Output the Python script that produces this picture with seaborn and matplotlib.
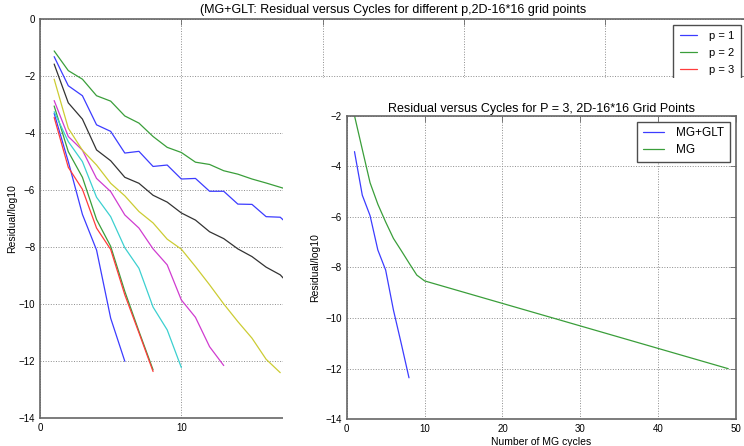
import numpy as np
import pandas as pd
import seaborn as sns
import matplotlib
matplotlib.use("Agg")
import matplotlib.pyplot as plt
from matplotlib.patches import Rectangle

# --- data ---
# left panel: log10 residual per MG+GLT cycle for p = 1..9
p_values = [1, 2, 3, 4, 5, 6, 7, 8, 9]
res_p1 = [-3.31, -5.0, -6.85, -8.1, -10.49, -12.0]
res_p2 = [-3.05, -4.65, -5.55, -7.03, -7.97, -9.55, -10.95, -12.3]
res_p3 = [-3.45, -5.2, -5.97, -7.33, -8.08, -9.67, -11.0, -12.36]
res_p4 = [-3.25, -4.3, -5.0, -6.25, -6.93, -8.02, -8.74, -10.1, -10.9, -12.22]
res_p5 = [-2.86, -4.12, -4.6, -5.59, -6.05, -6.87, -7.33, -8.06, -8.62,
          -9.85, -10.46, -11.49, -12.15]
res_p6 = [-2.11, -3.83, -4.6, -5.12, -5.76, -6.2, -6.75, -7.15, -7.72,
          -8.07, -8.68, -9.32, -9.99, -10.61, -11.19, -11.93, -12.4]
res_p7 = [-1.58, -2.94, -3.51, -4.59, -4.97, -5.55, -5.76, -6.18, -6.42,
          -6.8, -7.05, -7.46, -7.7, -8.06, -8.33, -8.7, -8.97, -9.5]
res_p8 = [-1.32, -2.34, -2.69, -3.71, -3.94, -4.7, -4.64, -5.17, -5.12,
          -5.61, -5.59, -6.04, -6.04, -6.49, -6.5, -6.93, -6.95, -7.4]
res_p9 = [-1.12, -1.81, -2.11, -2.69, -2.88, -3.4, -3.65, -4.12, -4.5,
          -4.68, -5.02, -5.1, -5.32, -5.44, -5.61, -5.75, -5.9, -6.05]
all_res = [res_p1, res_p2, res_p3, res_p4, res_p5, res_p6, res_p7, res_p8, res_p9]

# right panel: P = 3
glt_cycles = [1, 2, 3, 4, 5, 6, 7, 8]
glt_res = [-3.42, -5.14, -5.95, -7.31, -8.1, -9.68, -11.0, -12.36]
mg_cycles = [1, 2, 3, 4, 5, 6, 7, 8, 9, 10, 49]
mg_res = [-2.0, -3.33, -4.65, -5.5, -6.2, -6.85, -7.33, -7.82, -8.3, -8.53, -12.0]

# matlab-ish colour cycle, a bit washed out like the thin lines in the original
cycle_colors = ['#3c3cff', '#3a9e3a', '#ff3c3c', '#3cd0d0', '#d03cd0',
                '#cccc33', '#333333']

rows = []
for p, res in zip(p_values, all_res):
    for i, r in enumerate(res):
        rows.append({'cycle': i + 1, 'residual': r, 'p': f'p = {p}'})
df_left = pd.DataFrame(rows)

df_right = pd.concat([
    pd.DataFrame({'cycle': glt_cycles, 'residual': glt_res, 'method': 'MG+GLT'}),
    pd.DataFrame({'cycle': mg_cycles, 'residual': mg_res, 'method': 'MG'}),
])

sns.set_theme(style="white")
plt.rcParams['font.family'] = ['Liberation Sans', 'DejaVu Sans']
plt.rcParams.update({
    'xtick.direction': 'in', 'ytick.direction': 'in',
    'xtick.top': True, 'ytick.right': True,
    'xtick.major.size': 4, 'ytick.major.size': 4,
    'xtick.major.width': 0.6, 'ytick.major.width': 0.6,
    'xtick.color': '0.4', 'ytick.color': '0.4',
    'xtick.labelcolor': 'black', 'ytick.labelcolor': 'black',
    'axes.edgecolor': '0.4', 'axes.linewidth': 1.2,
    'xtick.labelsize': 7, 'ytick.labelsize': 7,
    'axes.labelsize': 7.5, 'axes.titlesize': 9,
    'text.color': 'black', 'axes.labelcolor': 'black',
})

fig = plt.figure(figsize=(7.44, 4.46), dpi=100)
fig.patch.set_facecolor('white')

# --- big panel ---
ax = fig.add_axes([0.0538, 0.0621, 0.9496, 0.8953], zorder=0)
palette = [cycle_colors[i % 7] for i in range(9)]
sns.lineplot(data=df_left, x='cycle', y='residual', hue='p', palette=palette,
             linewidth=0.9, ax=ax)
ax.set_xlim(0, 50)
ax.set_ylim(-14, 0)
ax.set_xticks(np.arange(0, 51, 10))
# labels past 10 sit under the inset anyway
ax.set_xticklabels(['0', '10', '', '', '', ''])
ax.set_yticks(np.arange(-14, 1, 2))
ax.grid(True, color='0.55', linestyle=':', linewidth=0.7)
ax.set_xlabel('')
ax.set_ylabel('Residual/log10', labelpad=1)
ax.set_title('(MG+GLT: Residual versus Cycles for different p,2D-16*16 grid points',
             pad=4)
h, l = ax.get_legend_handles_labels()
leg = ax.legend(h, l, loc='upper right', fontsize=8, fancybox=False,
                framealpha=1, edgecolor='0.3', handlelength=1.55,
                handletextpad=1.1, borderpad=0.6, labelspacing=0.6)
leg.get_frame().set_linewidth(1.0)
# entries below p = 3 end up behind the inset; don't leave stray text there
for txt in leg.get_texts()[3:]:
    txt.set_visible(False)

# white block behind the inset, like the reference
fig.add_artist(Rectangle((0.3804, 0), 0.63, 0.825, transform=fig.transFigure,
                         facecolor='white', edgecolor='none', zorder=1))

# --- inset panel ---
ax2 = fig.add_axes([0.4660, 0.0599, 0.5233, 0.6807], zorder=2)
sns.lineplot(data=df_right, x='cycle', y='residual', hue='method',
             palette=['#3c3cff', '#3a9e3a'], linewidth=0.9, ax=ax2)
ax2.set_xlim(0, 50)
ax2.set_ylim(-14, -2)
ax2.set_xticks(np.arange(0, 51, 10))
ax2.set_yticks(np.arange(-14, -1, 2))
ax2.grid(True, color='0.55', linestyle=':', linewidth=0.7)
ax2.set_xlabel('Number of MG cycles', labelpad=2)
ax2.set_ylabel('Residual/log10')
ax2.set_title('Residual versus Cycles for P = 3, 2D-16*16 Grid Points', pad=3)
h, l = ax2.get_legend_handles_labels()
leg2 = ax2.legend(h, l, loc='upper right', fontsize=8.5, fancybox=False,
                  framealpha=1, edgecolor='0.3', handlelength=1.8,
                  handletextpad=1.0, borderpad=0.5, labelspacing=0.4)
leg2.get_frame().set_linewidth(1.0)

fig.savefig('out.png', dpi=100, facecolor='white')
